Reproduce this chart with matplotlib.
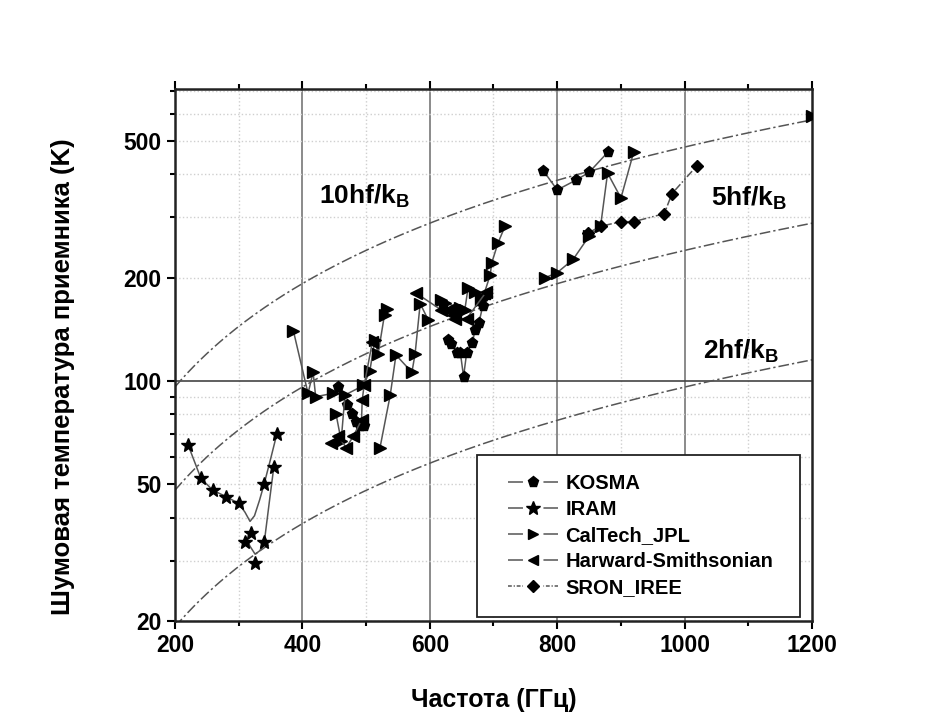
import numpy as np
import matplotlib
matplotlib.use("Agg")
import matplotlib.pyplot as plt
from matplotlib.patches import Rectangle
from matplotlib.lines import Line2D
from matplotlib.ticker import FixedLocator, NullFormatter

plt.rcParams['font.family'] = ['Liberation Sans', 'DejaVu Sans']
plt.rcParams['font.weight'] = 'bold'
plt.rcParams['mathtext.fontset'] = 'custom'
plt.rcParams['mathtext.bf'] = 'Liberation Sans:bold'
plt.rcParams['mathtext.rm'] = 'Liberation Sans:bold'

# ---- data (GHz, K) ----
kosma_1_f = [456, 470, 478, 484, 490, 497]
kosma_1_t = [96, 85, 80, 76, 74, 74]
kosma_2_f = [629, 634, 642, 648, 653, 658, 667, 671, 677, 683, 690]
kosma_2_t = [132, 128, 121, 121, 103, 121, 129, 141, 147, 165, 178]
kosma_3_f = [778, 800, 830, 850, 880]
kosma_3_t = [410, 360, 385, 405, 465]

iram_1_f = [221, 241, 260, 281, 300, 340, 360]
iram_1_t = [65, 52, 48, 46, 44, 50, 70]
iram_2_f = [310, 320, 326, 340, 355]
iram_2_t = [34, 36, 29.5, 34, 56]
# smooth fit curves drawn through the IRAM points
iram_fit_1_f = [221, 241, 260, 281, 300, 310, 318, 325, 333, 340, 350, 360]
iram_fit_1_t = [65, 52, 48, 46, 44, 41.5, 39, 40.5, 45, 50, 59, 70]
iram_fit_2_f = [312, 318, 326, 333, 340, 348, 355]
iram_fit_2_t = [35, 33, 31.3, 32, 33.5, 44, 55.6]

caltech_1_f = [386, 409, 417, 421, 448]
caltech_1_t = [140, 92, 106, 90, 92]
caltech_2_f = [453, 461, 467, 496, 506, 514, 519, 529, 533]
caltech_2_t = [80, 67, 91, 97, 107, 132, 120, 156, 162]
caltech_3_f = [522, 538, 547, 572, 577, 585, 598]
caltech_3_t = [64, 91, 119, 106, 120, 168, 150]
caltech_4_f = [618, 624, 647, 655, 660, 671]
caltech_4_t = [172, 169, 163, 161, 186, 182]
caltech_5_f = [680, 683, 695, 697, 707, 718]
caltech_5_t = [172, 174, 204, 220, 252, 282]
caltech_6_f = [781, 799, 825, 850, 868, 879, 900, 920]
caltech_6_t = [200, 206, 226, 264, 282, 403, 341, 464]
caltech_7_f = [1200]
caltech_7_t = [590]

harward_1_f = [445, 456, 469, 480, 493, 494, 497, 510]
harward_1_t = [66, 69, 64, 69, 77, 88, 97, 130]
harward_2_f = [579, 618, 629, 637, 640, 658, 689]
harward_2_t = [180, 161, 161, 156, 151, 152, 182]

sron_f = [849, 868, 900, 920, 968, 980, 1019]
sron_t = [270, 282, 291, 291, 307, 351, 423]

hf_over_k = 0.048  # K per GHz
limit_n = [10, 5, 2]
limit_labels = ['10hf/k$_\\mathbf{B}$', '5hf/k$_\\mathbf{B}$', '2hf/k$_\\mathbf{B}$']
limit_label_pos = [(426, 345), (1042, 340), (1028, 122)]

legend_names = ['KOSMA', 'IRAM', 'CalTech_JPL', 'Harward-Smithsonian', 'SRON_IREE']

x_major = [200, 400, 600, 800, 1000, 1200]
x_minor = [300, 500, 700, 900, 1100]
y_major = [20, 50, 100, 200, 500]
y_minor = [30, 40, 60, 70, 80, 90, 300, 400, 600, 700]

line_c = '#555555'
lw = 1.1

fig = plt.figure(figsize=(9.25, 7.24), dpi=100)
ax = fig.add_axes([0.189, 0.1423, 0.689, 0.7344])
ax.set_yscale('log')
ax.set_xlim(200, 1200)
ax.set_ylim(20, 707)

# grid
for x in x_minor:
    ax.axvline(x, color='#cfcfcf', ls=':', lw=1, zorder=0)
for x in x_major[1:-1]:
    ax.axvline(x, color='#777777', ls='-', lw=1.2, zorder=0)
for y in y_minor + [20, 50, 200, 500]:
    ax.axhline(y, color='#cfcfcf', ls=':', lw=1, zorder=0)
ax.axhline(100, color='#444444', ls='-', lw=1.2, zorder=0)

# quantum limit lines
f = np.linspace(200, 1200, 200)
for n, lab, pos in zip(limit_n, limit_labels, limit_label_pos):
    ax.plot(f, n * hf_over_k * f, color='#555555', lw=1.1, ls=(0, (7, 2, 1.5, 2)), zorder=1)
    ax.text(pos[0], pos[1], lab, fontsize=19, fontweight='bold', va='center', ha='left')

def series(fx, ty, marker, ms, ls='-'):
    ax.plot(fx, ty, color=line_c, lw=lw, ls=ls, marker=marker, ms=ms,
            mfc='black', mec='black', zorder=3)

series(kosma_1_f, kosma_1_t, 'p', 8)
series(kosma_2_f, kosma_2_t, 'p', 8)
series(kosma_3_f, kosma_3_t, 'p', 8)

ax.plot(iram_fit_1_f, iram_fit_1_t, color=line_c, lw=lw, zorder=2)
ax.plot(iram_fit_2_f, iram_fit_2_t, color=line_c, lw=lw, zorder=2)
ax.plot(iram_1_f, iram_1_t, ls='none', marker='*', ms=10, color='black', zorder=3)
ax.plot(iram_2_f, iram_2_t, ls='none', marker='*', ms=10, color='black', zorder=3)

for fx, ty in [(caltech_1_f, caltech_1_t), (caltech_2_f, caltech_2_t), (caltech_3_f, caltech_3_t),
               (caltech_4_f, caltech_4_t), (caltech_5_f, caltech_5_t), (caltech_6_f, caltech_6_t),
               (caltech_7_f, caltech_7_t)]:
    series(fx, ty, '>', 8)
series(harward_1_f, harward_1_t, '<', 8)
series(harward_2_f, harward_2_t, '<', 8)
series(sron_f, sron_t, 'D', 6, ls=(0, (5, 1.5, 1, 1.5, 1, 1.5)))

# legend: line - gap - marker - gap - line, like the original
ax.add_patch(Rectangle((0.474, 0.0075), 0.507, 0.305, transform=ax.transAxes,
                       facecolor='white', edgecolor='#222222', lw=1.3, zorder=6))
gap_solid = (0, (9.8, 13.4, 9.8, 100))
gap_dashdot = (0, (2.5, 1.2, 0.8, 1.2, 2.5, 1.2, 0.4, 13.4,
                   0.4, 1.2, 2.5, 1.2, 0.8, 1.2, 2.5, 100))
handles = []
for mk, ms, ls in [('p', 8, gap_solid), ('*', 10, gap_solid), ('>', 7.5, gap_solid),
                   ('<', 7.5, gap_solid), ('D', 6, gap_dashdot)]:
    ln = Line2D([], [], color=line_c, lw=lw, ls=ls)
    mark = Line2D([], [], ls='none', marker=mk, ms=ms, mfc='black', mec='black')
    handles.append((ln, mark))
leg = ax.legend(handles, legend_names,
                loc='upper left', bbox_to_anchor=(0.523, 0.277), frameon=False,
                borderpad=0, borderaxespad=0, handlelength=2.5, handletextpad=0.35,
                labelspacing=0.35, prop={'size': 14.5, 'weight': 'bold'})
leg.set_zorder(7)

# axes and ticks
ax.xaxis.set_major_locator(FixedLocator(x_major))
ax.xaxis.set_minor_locator(FixedLocator(x_minor))
ax.yaxis.set_major_locator(FixedLocator(y_major))
ax.yaxis.set_minor_locator(FixedLocator(y_minor))
ax.yaxis.set_minor_formatter(NullFormatter())
ax.set_yticklabels([str(v) for v in y_major])
ax.set_xticklabels([str(v) for v in x_major])
ax.tick_params(which='both', direction='out', top=True, right=False, width=1.5, labelsize=16.5)
ax.tick_params(which='major', length=6)
ax.tick_params(which='minor', length=3.5)
for lab in ax.get_xticklabels() + ax.get_yticklabels():
    lab.set_fontweight('bold')
for sp in ax.spines.values():
    sp.set_linewidth(1.8)
    sp.set_color('#222222')

ax.set_xlabel('Частота (ГГц)', fontsize=18, fontweight='bold', labelpad=22)
ax.set_ylabel('Шумовая температура приемника (K)', fontsize=18.5, fontweight='bold')
ax.yaxis.set_label_coords(-0.157, 0.459)

plt.savefig('out.png', dpi=100)
plt.close()
